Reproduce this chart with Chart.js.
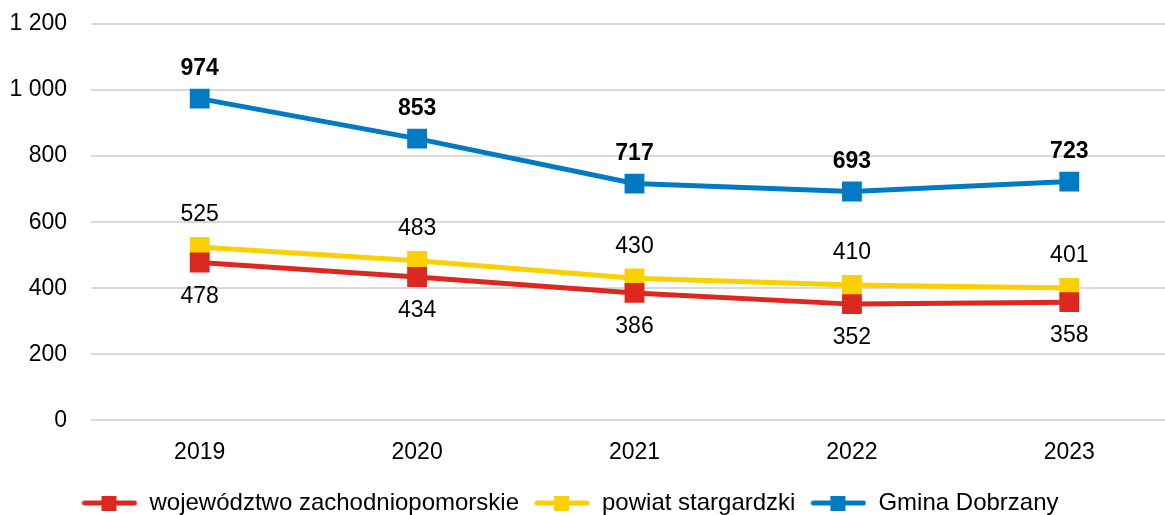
<!DOCTYPE html>
<html>
<head>
<meta charset="utf-8">
<script src="https://cdn.jsdelivr.net/npm/chart.js@4/dist/chart.umd.min.js"></script>
<style>
  html, body { margin: 0; padding: 0; background: #fff; overflow: hidden; }
  #chart { display: block; }
</style>
</head>
<body>
<canvas id="chart" width="1178" height="515"></canvas>
<script>
const years = ['2019', '2020', '2021', '2022', '2023'];
const wojewodztwo = [478, 434, 386, 352, 358];
const powiat = [525, 483, 430, 410, 401];
const gmina = [974, 853, 717, 693, 723];
const yTicks = [0, 200, 400, 600, 800, 1000, 1200];

const RED = 'rgb(221,40,33)';
const YELLOW = 'rgb(252,208,0)';
const BLUE = 'rgb(0,122,195)';
const FONT = '"Liberation Sans", Arial, sans-serif';

// small legend icon: line with a square marker in the middle
function legendIcon(color) {
    const c = document.createElement('canvas');
    c.width = 56; c.height = 16;
    const g = c.getContext('2d');
    g.strokeStyle = color;
    g.lineWidth = 5;
    g.lineCap = 'round';
    g.beginPath();
    g.moveTo(3, 8); g.lineTo(53, 8);
    g.stroke();
    g.fillStyle = color;
    g.fillRect(20, 1, 15, 15);
    return c;
}

function fmt(v) {
    return String(v).replace(/\B(?=(\d{3})+(?!\d))/g, ' ');
}

// value labels: above or below each point
const valueLabels = {
    id: 'valueLabels',
    afterDatasetsDraw(chart) {
        const ctx = chart.ctx;
        chart.data.datasets.forEach((ds, i) => {
            const meta = chart.getDatasetMeta(i);
            ctx.save();
            ctx.font = (ds.labelBold ? 'bold ' : '') + '23px ' + FONT;
            ctx.fillStyle = '#000';
            ctx.textAlign = 'center';
            ctx.textBaseline = 'middle';
            meta.data.forEach((pt, j) => {
                let off = ds.labelPos === 'below' ? 34 : -32;
                if (ds.labelBold) off = -30;
                ctx.fillText(fmt(ds.data[j]), pt.x, pt.y + off);
            });
            ctx.restore();
        });
    }
};

// nudge the legend row a bit to the left
const legendShift = {
    id: 'legendShift',
    afterLayout(chart) {
        chart.legend.left -= 19;
        chart.legend.right -= 19;
    }
};

const series = [
    { label: 'województwo zachodniopomorskie', data: wojewodztwo, color: RED, labelPos: 'below', labelBold: false },
    { label: 'powiat stargardzki', data: powiat, color: YELLOW, labelPos: 'above', labelBold: false },
    { label: 'Gmina Dobrzany', data: gmina, color: BLUE, labelPos: 'above', labelBold: true }
];

const config = {
    type: 'line',
    data: {
        labels: years,
        datasets: series.map(s => ({
            label: s.label,
            data: s.data,
            borderColor: s.color,
            backgroundColor: s.color,
            borderWidth: 5,
            pointStyle: 'rect',
            pointRadius: 10.5,
            pointHoverRadius: 10.5,
            tension: 0,
            labelPos: s.labelPos,
            labelBold: s.labelBold,
            legendIcon: legendIcon(s.color)
        }))
    },
    options: {
        responsive: false,
        animation: false,
        layout: { autoPadding: false, padding: { top: 24, right: 0, left: 0, bottom: -10 } },
        plugins: {
            legend: {
                position: 'bottom',
                labels: {
                    usePointStyle: true,
                    pointStyleWidth: 56,
                    padding: 15,
                    color: '#000',
                    font: { family: FONT, size: 24 },
                    generateLabels(chart) {
                        return chart.data.datasets.map((ds, i) => ({
                            text: ds.label,
                            pointStyle: ds.legendIcon,
                            fillStyle: ds.borderColor,
                            strokeStyle: ds.borderColor,
                            lineWidth: 0,
                            hidden: false,
                            datasetIndex: i
                        }));
                    }
                }
            },
            tooltip: { enabled: false }
        },
        scales: {
            x: {
                offset: true,
                grid: { display: false },
                border: { display: false },
                ticks: { color: '#000', font: { family: FONT, size: 23 }, padding: 10 }
            },
            y: {
                min: 0,
                max: 1200,
                afterBuildTicks(scale) { scale.ticks = yTicks.map(v => ({ value: v })); },
                afterFit(scale) {
                    scale.width = 91;
                    scale.paddingTop = 0;
                },
                grid: { color: '#d9d9d9', lineWidth: 2, drawTicks: false },
                border: { display: false },
                ticks: {
                    color: '#000',
                    font: { family: FONT, size: 23 },
                    padding: 24,
                    callback: v => fmt(v)
                }
            }
        }
    },
    plugins: [valueLabels, legendShift]
};

new Chart(document.getElementById('chart'), config);
</script>
</body>
</html>
